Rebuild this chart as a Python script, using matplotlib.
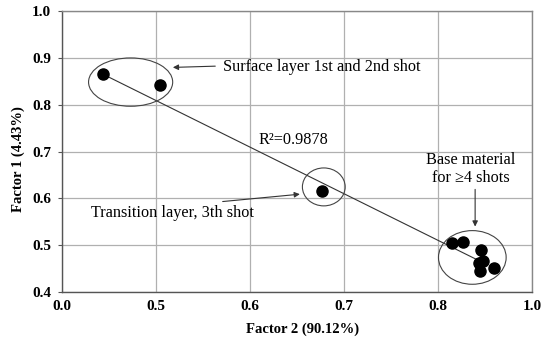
import numpy as np
import matplotlib
matplotlib.use("Agg")
import matplotlib.pyplot as plt
from matplotlib.patches import Ellipse

# ---- data ----
factor2 = [0.218, 0.504, 0.677, 0.830, 0.854, 0.891, 0.896, 0.888, 0.889, 0.919]
factor1 = [0.865, 0.841, 0.616, 0.504, 0.507, 0.490, 0.466, 0.461, 0.445, 0.452]
fit_x = [0.218, 0.881]
fit_y = [0.865, 0.470]
xtick_vals = [0.0, 0.5, 0.6, 0.7, 0.8, 1.0]
xtick_labels = ["0.0", "0.5", "0.6", "0.7", "0.8", "1.0"]
ytick_vals = [0.4, 0.5, 0.6, 0.7, 0.8, 0.9, 1.0]
ytick_labels = ["0.4", "0.5", "0.6", "0.7", "0.8", "0.9", "1.0"]
r2_text = "R\u00b2=0.9878"

plt.rcParams['font.family'] = ['Liberation Serif', 'DejaVu Serif']

fig = plt.figure(figsize=(5.5, 3.45), dpi=100)
ax = fig.add_axes([62/550, 53/345, 470/550, 281/345])

pos = np.arange(len(xtick_vals), dtype=float)
def fwd(x):
    return np.interp(x, xtick_vals, pos)
def inv(p):
    return np.interp(p, pos, xtick_vals)
ax.set_xscale('function', functions=(fwd, inv))

ax.set_xlim(0.0, 1.0)
ax.set_ylim(0.4, 1.0)
ax.set_xticks(xtick_vals)
ax.set_xticklabels(xtick_labels)
ax.set_yticks(ytick_vals)
ax.set_yticklabels(ytick_labels)
ax.minorticks_off()
ax.tick_params(axis='x', length=0, pad=6, labelsize=11)
ax.tick_params(axis='y', length=3, pad=5, labelsize=11, color='#555555')
for lab in ax.get_xticklabels() + ax.get_yticklabels():
    lab.set_fontweight('bold')

ax.grid(True, color='#b0b0b0', linewidth=0.9)
ax.set_axisbelow(True)
for s in ['left', 'bottom']:
    ax.spines[s].set_color('#555555')
    ax.spines[s].set_linewidth(1.0)
for s in ['top', 'right']:
    ax.spines[s].set_color('#888888')
    ax.spines[s].set_linewidth(1.0)

ax.plot(fit_x, fit_y, color='#333333', linewidth=0.8, zorder=3)
ax.plot(factor2, factor1, 'o', color='black', markersize=8, zorder=4)

ax.set_xlabel("Factor 2 (90.12%)", fontweight='bold', fontsize=10.5)
ax.set_ylabel("Factor 1 (4.43%)", fontweight='bold', fontsize=10.5)
ax.xaxis.set_label_coords(0.511, -0.108)
ax.yaxis.set_label_coords(-0.079, 0.472)

for (cx, cy, w, h) in [(0.146, 0.747, 0.179, 0.172), (0.557, 0.374, 0.091, 0.135), (0.873, 0.123, 0.144, 0.191)]:
    ax.add_patch(Ellipse((cx, cy), w, h, transform=ax.transAxes, fill=False,
                         edgecolor='#444444', linewidth=0.8, zorder=5))

fs = 11.7
arrowprops = dict(arrowstyle='-|>', color='#333333', lw=0.8, mutation_scale=8)
ax.annotate("", xy=(0.230, 0.799), xytext=(0.332, 0.804), xycoords='axes fraction',
            textcoords='axes fraction', arrowprops=arrowprops)
ax.text(0.342, 0.801, "Surface layer 1st and 2nd shot", transform=ax.transAxes,
        ha='left', va='center', fontsize=fs)
ax.text(0.417, 0.541, r2_text, transform=ax.transAxes, ha='left', va='center', fontsize=fs)
ax.annotate("", xy=(0.512, 0.349), xytext=(0.336, 0.321), xycoords='axes fraction',
            textcoords='axes fraction', arrowprops=arrowprops)
ax.text(0.061, 0.282, "Transition layer, 3th shot", transform=ax.transAxes,
        ha='left', va='center', fontsize=fs)
ax.annotate("", xy=(0.879, 0.223), xytext=(0.879, 0.375), xycoords='axes fraction',
            textcoords='axes fraction', arrowprops=arrowprops)
ax.text(0.870, 0.437, "Base material\nfor \u22654 shots", transform=ax.transAxes,
        ha='center', va='center', fontsize=fs, linespacing=1.2)

fig.savefig("out.png", dpi=100)
